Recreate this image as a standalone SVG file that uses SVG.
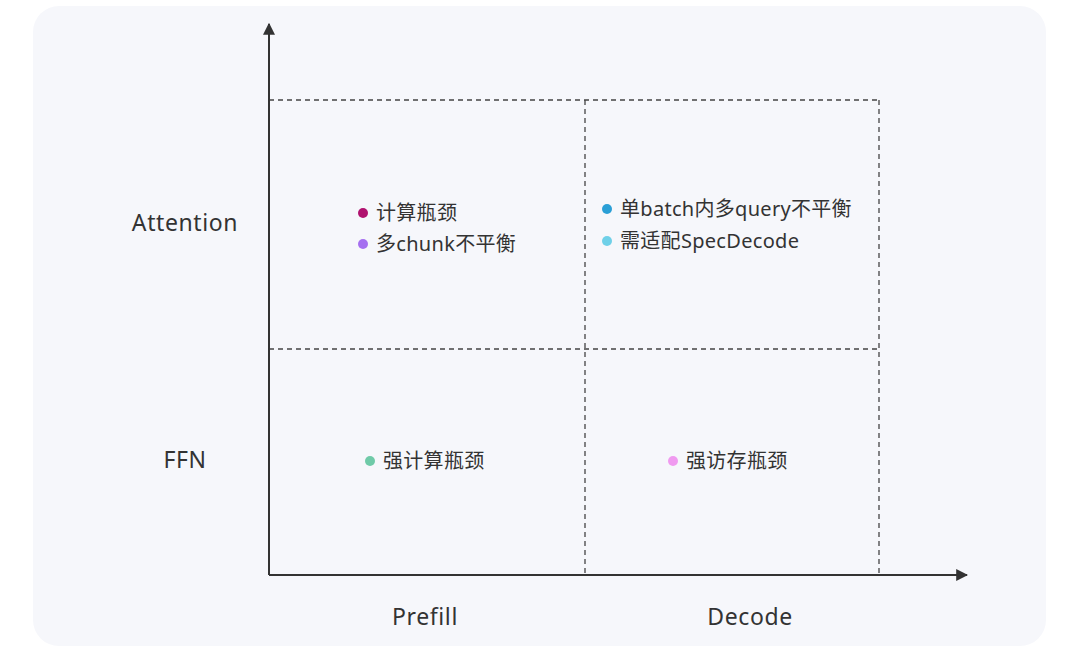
<svg xmlns="http://www.w3.org/2000/svg" width="1080" height="648" viewBox="0 0 1080 648">
<style>
.lbl{font-family:"Noto Sans","Liberation Sans","Noto Sans CJK SC",sans-serif;font-size:23px;letter-spacing:0.6px;fill:#333;text-anchor:middle}
.itm{font-family:"Noto Sans","Liberation Sans","Noto Sans CJK SC",sans-serif;font-size:20px;letter-spacing:0.3px;fill:#333}
.dash{stroke:#444;stroke-width:1.3;stroke-dasharray:5,4;fill:none}
.axis{stroke:#333;stroke-width:2;fill:none}
</style>
<defs>
<marker id="arr" viewBox="0 0 10 10" refX="9" refY="5" markerWidth="6" markerHeight="6" orient="auto" markerUnits="strokeWidth">
<path d="M0,0 L10,5 L0,10 z" fill="#333"/>
</marker>
</defs>
<rect width="1080" height="648" fill="#ffffff"/>
<rect x="33" y="6" width="1013" height="640" rx="26" fill="#f6f7fb"/>
<g id="connectors">
<line class="dash" x1="269" y1="100" x2="879" y2="100"/>
<line class="dash" x1="269" y1="349" x2="879" y2="349"/>
<line class="dash" x1="585" y1="100" x2="585" y2="575"/>
<line class="dash" x1="879" y1="100" x2="879" y2="575"/>
<line class="axis" x1="269" y1="575" x2="269" y2="24" marker-end="url(#arr)"/>
<line class="axis" x1="269" y1="575" x2="967" y2="575" marker-end="url(#arr)"/>
</g>
<g id="label-attention"><text class="lbl" x="185" y="231">Attention</text></g>
<g id="label-ffn"><text class="lbl" x="185" y="468">FFN</text></g>
<g id="label-prefill"><text class="lbl" x="425" y="625">Prefill</text></g>
<g id="label-decode"><text class="lbl" x="750" y="625">Decode</text></g>
<g id="prefill-attention">
<circle cx="363" cy="213" r="5" fill="#b0126f"/>
<text class="itm" x="376" y="220">计算瓶颈</text>
<circle cx="363" cy="244" r="5" fill="#a56ff0"/>
<text class="itm" x="376" y="251">多chunk不平衡</text>
</g>
<g id="decode-attention">
<circle cx="607" cy="209" r="5" fill="#2a9fd6"/>
<text class="itm" x="620" y="216">单batch内多query不平衡</text>
<circle cx="607" cy="241" r="5" fill="#6fd0e8"/>
<text class="itm" x="620" y="248">需适配SpecDecode</text>
</g>
<g id="prefill-ffn">
<circle cx="370" cy="461" r="5" fill="#6fcaa8"/>
<text class="itm" x="383" y="468">强计算瓶颈</text>
</g>
<g id="decode-ffn">
<circle cx="673" cy="461" r="5" fill="#f09af0"/>
<text class="itm" x="686" y="468">强访存瓶颈</text>
</g>
</svg>
